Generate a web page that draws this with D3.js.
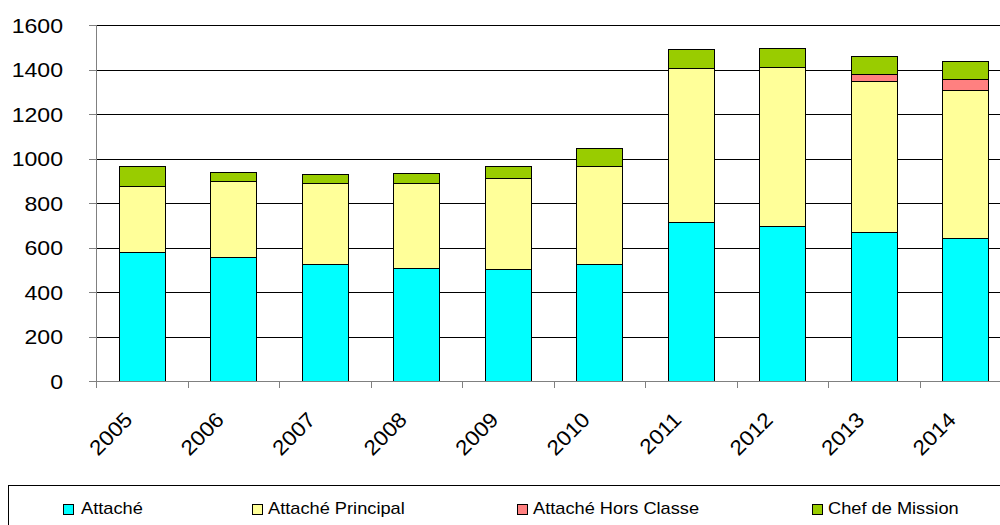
<!DOCTYPE html>
<html>
<head>
<meta charset="utf-8">
<script src="https://cdn.jsdelivr.net/npm/d3@7"></script>
<style>
  body { margin: 0; background: #fff; }
  text { font-family: "Liberation Sans", Arial, sans-serif; fill: #000; }
</style>
</head>
<body>
<div id="chart"></div>
<script>
// values
const years = ['2005', '2006', '2007', '2008', '2009', '2010', '2011', '2012', '2013', '2014'];
const attache = [578, 556, 524, 508, 502, 524, 715, 695, 668, 643];
const attachePrincipal = [297, 341, 364, 383, 410, 442, 693, 718, 682, 665];
const horsClasse = [0, 0, 0, 0, 0, 0, 0, 0, 31, 48];
const chefMission = [90, 42, 44, 44, 53, 80, 82, 82, 78, 81];
const seriesNames = ['Attaché', 'Attaché Principal', 'Attaché Hors Classe', 'Chef de Mission'];
const seriesColors = ['#00ffff', '#ffff99', '#ff8080', '#99cc00'];
const yTicks = [0, 200, 400, 600, 800, 1000, 1200, 1400, 1600];

const W = 1000, H = 525;
const svg = d3.select('#chart').append('svg')
        .attr('width', W)
        .attr('height', H);

const x = d3.scaleBand().domain(years).range([96, 1011]).paddingInner(0).paddingOuter(0);
const y = d3.scaleLinear().domain([0, 1600]).range([381, 25]);

const rows = years.map((yr, i) => ({
        year: yr,
        'Attaché': attache[i],
        'Attaché Principal': attachePrincipal[i],
        'Attaché Hors Classe': horsClasse[i],
        'Chef de Mission': chefMission[i]
}));
const stacked = d3.stack().keys(seriesNames)(rows);

// gridlines
svg.append('g').selectAll('line')
        .data(yTicks.filter(d => d > 0))
        .join('line')
        .attr('x1', 96).attr('x2', W)
        .attr('y1', d => Math.round(y(d)) + 0.5)
        .attr('y2', d => Math.round(y(d)) + 0.5)
        .attr('stroke', '#000')
        .attr('stroke-width', 1);

// bars
const barW = x.bandwidth() * 0.5;
stacked.forEach((s, si) => {
        svg.append('g').selectAll('rect')
                .data(s.filter(d => d[1] - d[0] > 0))
                .join('rect')
                .attr('x', d => Math.round(x(d.data.year) + (x.bandwidth() - barW) / 2) + 0.5)
                .attr('y', d => Math.round(y(d[1])) + 0.5)
                .attr('width', Math.round(barW))
                .attr('height', d => Math.round(y(d[0])) - Math.round(y(d[1])))
                .attr('fill', seriesColors[si])
                .attr('stroke', '#000')
                .attr('stroke-width', 1);
});

// y axis
const yAxis = svg.append('g');
yAxis.append('line')
        .attr('x1', 96.5).attr('x2', 96.5)
        .attr('y1', y(1600)).attr('y2', y(0) + 0.5)
        .attr('stroke', '#808080');
yAxis.selectAll('.tick')
        .data(yTicks)
        .join('line')
        .attr('x1', 89).attr('x2', 96)
        .attr('y1', d => Math.round(y(d)) + 0.5)
        .attr('y2', d => Math.round(y(d)) + 0.5)
        .attr('stroke', '#808080');
yAxis.selectAll('text')
        .data(yTicks)
        .join('text')
        .attr('transform', d => `translate(63,${y(d) + 7.5}) scale(1.1,1)`)
        .attr('text-anchor', 'end')
        .attr('font-size', '21px')
        .text(d => d);

// x axis
const xAxis = svg.append('g');
xAxis.append('line')
        .attr('x1', 96).attr('x2', W)
        .attr('y1', 381.5).attr('y2', 381.5)
        .attr('stroke', '#808080');
xAxis.selectAll('.tick')
        .data(years)
        .join('line')
        .attr('x1', d => Math.round(x(d)) + 0.5)
        .attr('x2', d => Math.round(x(d)) + 0.5)
        .attr('y1', 381).attr('y2', 388)
        .attr('stroke', '#808080');
xAxis.selectAll('text')
        .data(years)
        .join('text')
        .attr('transform', d => `translate(${x(d) + x.bandwidth() / 2 - 8},421) rotate(-45) scale(1.08,1)`)
        .attr('text-anchor', 'end')
        .attr('font-size', '21px')
        .text(d => d);

// legend
const legend = svg.append('g');
legend.append('rect')
        .attr('x', 8.5).attr('y', 485.5)
        .attr('width', 1000).attr('height', 60)
        .attr('fill', 'none')
        .attr('stroke', '#000');
const legendX = [63, 252, 517, 812];
const legendItems = legend.selectAll('g')
        .data(seriesNames)
        .join('g')
        .attr('transform', (d, i) => `translate(${legendX[i]},0)`);
legendItems.append('rect')
        .attr('x', 0.5).attr('y', 504.5)
        .attr('width', 10).attr('height', 10)
        .attr('fill', (d, i) => seriesColors[i])
        .attr('stroke', '#000');
legendItems.append('text')
        .attr('transform', (d, i) => `translate(${i == 0 ? 18 : 16},514) scale(1.14,1)`)
        .attr('font-size', '16px')
        .text(d => d);
</script>
</body>
</html>
